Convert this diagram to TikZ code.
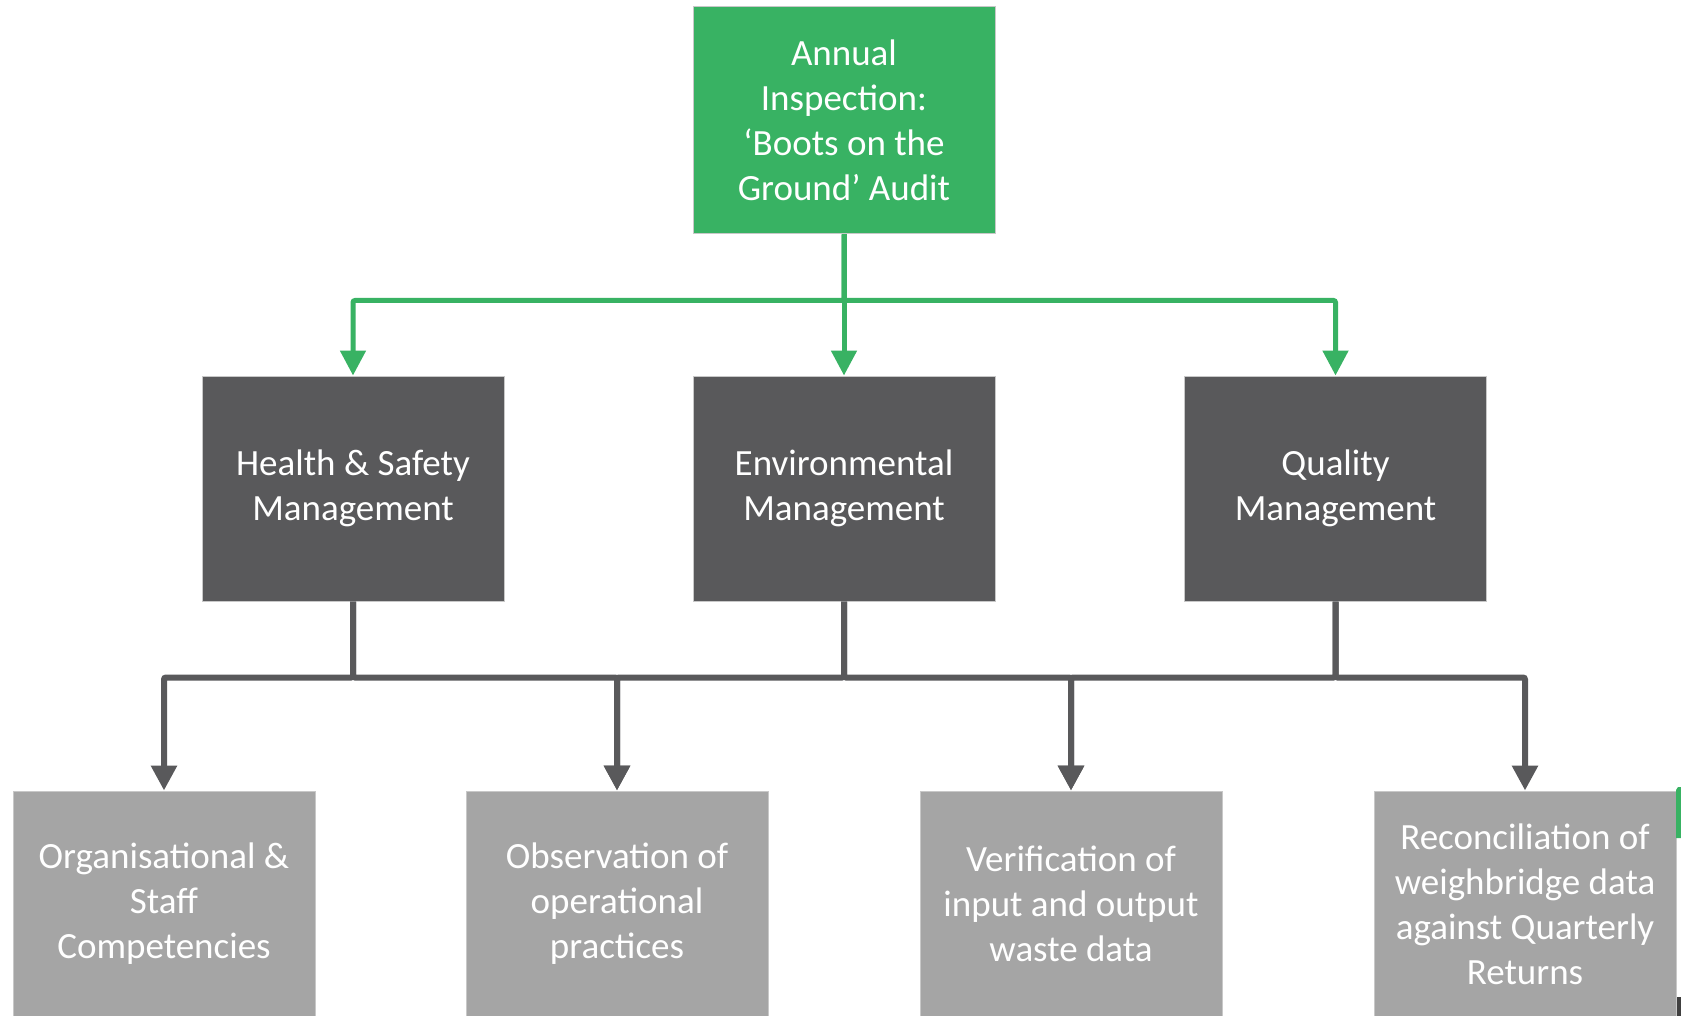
\documentclass[tikz,border=0pt]{standalone}
\usepackage{fontspec}
\setmainfont{Carlito}
\usetikzlibrary{arrows.meta}
\definecolor{cgreen}{RGB}{56,178,99}
\definecolor{cdark}{RGB}{89,89,91}
\definecolor{clight}{RGB}{165,165,165}
\definecolor{cborder}{RGB}{200,200,200}
\begin{document}
\begin{tikzpicture}[x=1pt,y=-1pt,
  box/.style={draw=cborder, line width=1pt, minimum width=302pt, minimum height=226pt,
    inner sep=0pt, align=center, text=white, font=\fontsize{37pt}{45pt}\selectfont},
  topbox/.style={box, fill=cgreen, minimum height=227pt},
  midbox/.style={box, fill=cdark, minimum height=225pt},
  lowbox/.style={box, fill=clight},
  garrow/.style={draw=cgreen, line width=5pt, rounded corners=2pt,
    -{Triangle[width=25pt,length=25pt]}},
  darrow/.style={draw=cdark, line width=6pt, rounded corners=2pt,
    -{Triangle[width=25pt,length=25pt]}}]
\useasboundingbox (0,0) rectangle (1681,1016);
\fill[white] (0,0) rectangle (1681,1016);

\node[topbox] (top) at (844,120.5) {Annual\\Inspection:\\‘Boots on the\\Ground’ Audit};

\node[midbox] (hs) at (353,488.5) {Health \& Safety\\Management};
\node[midbox] (env) at (844,488.5) {Environmental\\Management};
\node[midbox] (q) at (1335.5,488.5) {Quality\\Management};

\node[lowbox] (b1) at (164,904) {Organisational \&\\Staff\\Competencies};
\node[lowbox] (b2) at (617,904) {Observation of\\operational\\practices};
\node[lowbox] (b3) at (1071,904) {Verification of\\input and output\\waste data};
\node[lowbox] (b4) at (1525,904) {Reconciliation of\\weighbridge data\\against Quarterly\\Returns};

\draw[garrow] (top.south) -- ++(0,66) -| (hs.north);
\draw[garrow] (top.south) -- ++(0,66) -| (q.north);
\draw[garrow] (top.south) -- (env.north);

\draw[darrow] (hs.south) -- ++(0,76) -| (b1.north);
\draw[darrow] (hs.south) -- ++(0,76) -| (b2.north);
\draw[darrow] (env.south) -- ++(0,76) -| (b2.north);
\draw[darrow] (env.south) -- ++(0,76) -| (b3.north);
\draw[darrow] (q.south) -- ++(0,76) -| (b3.north);
\draw[darrow] (q.south) -- ++(0,76) -| (b4.north);

\fill[cgreen!80!green!60!black!0!cgreen] (1676,790) -- (1678,787) -- (1681,787) -- (1681,838) -- (1676,838) -- cycle;
\fill[black!75] (1677,997) rectangle (1681,1016);
\end{tikzpicture}
\end{document}
